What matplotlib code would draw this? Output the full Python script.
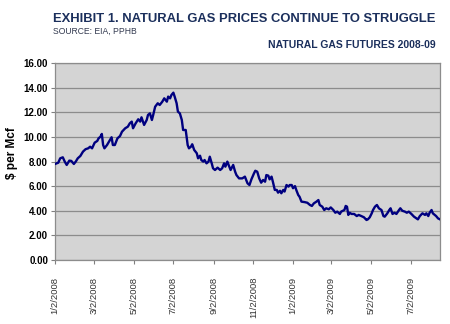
import matplotlib
matplotlib.use("Agg")
import matplotlib.pyplot as plt
import pandas as pd

# Natural gas futures, $ per Mcf; day offsets counted from 2 Jan 2008
start = pd.Timestamp("2008-01-02")
day_offsets = [
    0, 5, 8, 12, 15, 18, 22, 25, 29, 32, 35, 39, 43, 47, 51, 54, 57, 61, 65, 67,
    70, 72, 74, 76, 80, 83, 87, 89, 92, 96, 100, 103, 108, 112, 115, 118, 120, 124,
    128, 131, 133, 137, 141, 143, 146, 149, 151, 154, 158, 161, 165, 168, 172, 174,
    177, 179, 182, 184, 187, 189, 192, 195, 197, 201, 204, 206, 209, 211, 214, 218,
    220, 223, 225, 228, 230, 233, 236, 238, 241, 243, 246, 250, 254, 257, 260, 262,
    265, 267, 270, 274, 277, 279, 283, 288, 292, 296, 299, 302, 306, 308, 311, 314,
    317, 320, 323, 325, 328, 330, 333, 335, 338, 341, 343, 346, 348, 351, 353, 356,
    359, 361, 364, 366, 369, 371, 374, 376, 379, 384, 388, 392, 395, 398, 402, 405,
    407, 411, 414, 417, 421, 424, 428, 431, 434, 438, 440, 445, 447, 449, 451, 453,
    456, 460, 464, 467, 471, 475, 479, 481, 484, 487, 489, 492, 495, 498, 502, 505,
    507, 511, 514, 516, 519, 522, 525, 529, 531, 534, 538, 541, 544, 548, 552, 556,
    558, 561, 565, 569, 571, 574, 576, 579, 581, 584, 586, 589, 592,
]
prices = [
    7.80, 7.90, 8.26, 8.34, 7.99, 7.72, 8.07, 8.05, 7.80, 8.00, 8.26, 8.45, 8.80, 9.00, 9.07, 9.20, 9.07, 9.53, 9.67, 9.88,
    10.02, 10.24, 9.34, 9.07, 9.34, 9.61, 9.97, 9.34, 9.34, 9.88, 10.07, 10.42, 10.70, 10.83, 11.10, 11.24, 10.70, 11.10,
    11.43, 11.24, 11.59, 10.97, 11.37, 11.78, 11.91, 11.37, 11.78, 12.45, 12.73, 12.59, 12.86, 13.13, 12.86, 13.27,
    13.13, 13.40, 13.59, 13.27, 12.73, 12.05, 11.91, 11.37, 10.56, 10.56, 9.34, 9.07, 9.20, 9.40, 8.94, 8.67,
    8.26, 8.47, 8.12, 7.99, 8.12, 7.85, 7.99, 8.39, 7.85, 7.45, 7.31, 7.50, 7.31, 7.45, 7.85, 7.58,
    7.99, 7.72, 7.31, 7.72, 7.17, 6.90, 6.63, 6.63, 6.77, 6.23, 6.09, 6.55, 7.04, 7.25, 7.17, 6.63,
    6.28, 6.50, 6.36, 6.90, 6.85, 6.55, 6.77, 6.36, 5.69, 5.69, 5.47, 5.62, 5.42, 5.69, 5.56, 6.09,
    5.96, 6.09, 6.09, 5.83, 6.00, 5.69, 5.28, 5.14, 4.74, 4.70, 4.65, 4.47, 4.39, 4.60, 4.74, 4.87,
    4.47, 4.33, 4.06, 4.20, 4.12, 4.27, 4.06, 3.84, 3.93, 3.74, 3.93, 4.06, 4.39, 4.33, 3.66, 3.84,
    3.74, 3.74, 3.57, 3.66, 3.57, 3.47, 3.25, 3.30, 3.47, 3.79, 4.06, 4.33, 4.47, 4.20, 4.06, 3.57,
    3.52, 3.79, 4.06, 4.20, 3.74, 3.84, 3.74, 4.06, 4.20, 4.00, 3.93, 3.84, 3.93, 3.74, 3.52, 3.38,
    3.30, 3.57, 3.79, 3.66, 3.79, 3.57, 3.84, 4.06, 3.79, 3.66, 3.57, 3.38, 3.30,
]
dates = start + pd.to_timedelta(day_offsets, unit="D")

tick_dates = pd.to_datetime([
    "2008-01-02", "2008-03-02", "2008-05-02", "2008-07-02", "2008-09-02",
    "2008-11-02", "2009-01-02", "2009-03-02", "2009-05-02", "2009-07-02",
])
tick_labels = [f"{d.month}/{d.day}/{d.year}" for d in tick_dates]
y_ticks = [0, 2, 4, 6, 8, 10, 12, 14, 16]

plt.rcParams["font.family"] = ["Liberation Sans", "DejaVu Sans"]
navy = "#1b2f5c"

fig = plt.figure(figsize=(4.5, 3.24), dpi=100)
ax = fig.add_axes([55 / 450, 1 - 260 / 324, 385 / 450, 197 / 324])

ax.set_facecolor("#d4d4d4")
ax.plot(dates, prices, color="#000080", linewidth=1.7, zorder=5)

ax.set_ylim(0, 16)
ax.set_yticks(y_ticks)
ax.set_yticklabels([f"{v:.2f}" for v in y_ticks], fontsize=7, fontweight="bold")
ax.grid(axis="y", color="#8c8c8c", linewidth=0.9)
ax.set_axisbelow(True)

ax.set_xlim(start, start + pd.Timedelta(days=day_offsets[-1]))
ax.set_xticks(tick_dates)
ax.set_xticklabels(tick_labels, rotation=90, fontsize=6.8, color="#333333")
ax.tick_params(axis="x", length=3, color="#808080", pad=9)
ax.tick_params(axis="y", length=3, color="#808080", pad=2)

for side in ["left", "bottom", "right", "top"]:
    ax.spines[side].set_color("#8c8c8c")
    ax.spines[side].set_linewidth(0.9)

ax.set_ylabel("$ per Mcf", fontsize=8.6, fontweight="bold")
ax.yaxis.set_label_coords(-0.097, 0.543)

fig.text(53 / 450, 1 - 18.5 / 324, "EXHIBIT 1. NATURAL GAS PRICES CONTINUE TO STRUGGLE",
         fontsize=9.4, fontweight="bold", color=navy, va="center", ha="left")
fig.text(53 / 450, 1 - 31 / 324, "SOURCE: EIA, PPHB",
         fontsize=6.2, color="#333a50", va="center", ha="left")
fig.text(436 / 450, 1 - 45.5 / 324, "NATURAL GAS FUTURES 2008-09",
         fontsize=7.5, fontweight="bold", color=navy, va="center", ha="right")

fig.savefig("out.png", dpi=100)
